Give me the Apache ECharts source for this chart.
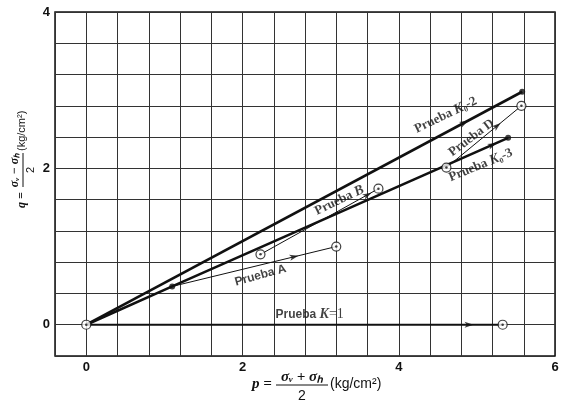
<!DOCTYPE html>
<html>
<head>
<meta charset="utf-8">
<script src="https://cdn.jsdelivr.net/npm/echarts@6/dist/echarts.min.js"></script>
<style>
  html, body { margin: 0; background: #fff; }
  #chart { width: 564px; height: 405px; }
</style>
</head>
<body>
<div id="chart"></div>
<script>
// stress paths, p and q in kg/cm2
const pathK02 = [[0, 0], [5.58, 2.98]];
const pathK03 = [[0, 0], [1.10, 0.49], [5.40, 2.39]];
const pathA = [[1.10, 0.49], [3.20, 1.00]];
const pathB = [[2.23, 0.90], [3.74, 1.74]];
const pathD = [[4.61, 2.01], [5.57, 2.80]];
const pathK1 = [[0, 0], [5.33, 0]];

const solidPoints = [[1.10, 0.49], [5.58, 2.98], [5.40, 2.39]];
const openPoints = [[0, 0], [3.20, 1.00], [2.23, 0.90], [3.74, 1.74], [4.61, 2.01], [5.57, 2.80], [5.33, 0]];

// arrow heads along each path
const arrowAt = [[4.84, 2.585], [5.20, 2.30], [2.66, 0.87], [3.60, 1.66], [5.26, 2.545], [4.90, 0]];
const arrowPath = [pathK02, pathK03, pathA, pathB, pathD, pathK1];

// labels: position, angle
const labelAt = [[4.60, 2.68], [5.05, 2.04], [2.23, 0.63], [3.24, 1.59], [4.93, 2.39], [2.86, 0.13]];
const labelAngle = [26, 22.5, 15.5, 26, 37, 0];
const labelText = [
  '{a|Prueba }{k|K}{a|₀-2}',
  '{a|Prueba }{k|K}{a|₀-3}',
  '{b|Prueba A}',
  '{a|Prueba }{k|B}',
  '{a|Prueba D}',
  '{b|Prueba }{k|K}{e|=1}'
];

const xLabels = [0, 2, 4, 6];
const yLabels = [0, 2, 4];

const ink = '#111';
const chart = echarts.init(document.getElementById('chart'));

function pathSeries(data, width) {
  return {
    type: 'line', data, symbol: 'none', silent: true, z: 3,
    lineStyle: { color: ink, width }
  };
}

function onlyTicks(list) {
  return v => list.some(t => Math.abs(t - v) < 1e-6) ? String(Math.round(v)) : '';
}

const rich = {
  a: { fontFamily: 'Liberation Serif', fontWeight: 'bold', fontSize: 13, color: ink },
  b: { fontFamily: 'Liberation Sans', fontWeight: 'bold', fontSize: 12, color: ink },
  k: { fontFamily: 'Liberation Serif', fontStyle: 'italic', fontWeight: 'bold', fontSize: 14, color: ink },
  e: { fontFamily: 'Liberation Serif', fontSize: 14, color: ink }
};

const txt = (text, x, y, size, extra) => ({
  type: 'text', x, y,
  style: Object.assign({ text, fill: ink, fontSize: size, fontFamily: 'Liberation Serif',
    align: 'center', verticalAlign: 'middle' }, extra || {})
});

chart.setOption({
  animation: false,
  grid: { left: 55, top: 12, width: 500, height: 344, show: true, borderColor: ink, borderWidth: 1.5 },
  xAxis: {
    type: 'value', min: -0.4, max: 6, interval: 0.4,
    axisLine: { show: false }, axisTick: { show: false },
    axisLabel: { formatter: onlyTicks(xLabels), color: ink, fontSize: 13, fontWeight: 'bold',
      fontFamily: 'Liberation Sans', margin: 5 },
    splitLine: { lineStyle: { color: '#333', width: 1 } }
  },
  yAxis: {
    type: 'value', min: -0.4, max: 4, interval: 0.4,
    axisLine: { show: false }, axisTick: { show: false },
    axisLabel: { formatter: onlyTicks(yLabels), color: ink, fontSize: 13, fontWeight: 'bold',
      fontFamily: 'Liberation Sans', margin: 5 },
    splitLine: { lineStyle: { color: '#333', width: 1 } }
  },
  series: [
    pathSeries(pathK02, 2.6),
    pathSeries(pathK03, 2.6),
    pathSeries(pathA, 1),
    pathSeries(pathB, 1),
    pathSeries(pathD, 1),
    pathSeries(pathK1, 2),
    {
      type: 'scatter', data: solidPoints, symbol: 'circle', symbolSize: 6, z: 5,
      itemStyle: { color: ink }
    },
    {
      type: 'scatter', data: openPoints, symbol: 'circle', symbolSize: 9, z: 5,
      itemStyle: { color: '#fff', borderColor: ink, borderWidth: 1.2 }
    },
    {
      type: 'scatter', data: openPoints, symbol: 'circle', symbolSize: 2.5, z: 6,
      itemStyle: { color: ink }
    },
    {
      type: 'scatter', symbolSize: 0, z: 7, silent: true,
      data: labelAt.map((p, i) => ({
        value: p,
        label: { show: true, position: 'inside', rotate: labelAngle[i], formatter: labelText[i], rich }
      }))
    }
  ],
  graphic: [
    {
      type: 'group', x: 302, y: 385,
      children: [
        txt('p =', -40, -1, 15, { fontStyle: 'italic', fontWeight: 'bold' }),
        txt('σᵥ + σₕ', 0, -8, 15, { fontStyle: 'italic', fontWeight: 'bold' }),
        { type: 'line', shape: { x1: -26, y1: 0, x2: 26, y2: 0 }, style: { stroke: ink, lineWidth: 1 } },
        txt('2', 0, 11, 14, { fontFamily: 'Liberation Sans' }),
        txt('(kg/cm²)', 28, -1, 14, { fontFamily: 'Liberation Sans', align: 'left' })
      ]
    },
    {
      type: 'group', x: 23, y: 170, rotation: Math.PI / 2,
      children: [
        txt('q =', -30, -1, 12, { fontStyle: 'italic', fontWeight: 'bold' }),
        txt('σᵥ − σₕ', 0, -8, 12, { fontStyle: 'italic', fontWeight: 'bold' }),
        { type: 'line', shape: { x1: -17, y1: 0, x2: 17, y2: 0 }, style: { stroke: ink, lineWidth: 1 } },
        txt('2', 0, 8, 11, { fontFamily: 'Liberation Sans' }),
        txt('(kg/cm²)', 19, -1, 11, { fontFamily: 'Liberation Sans', align: 'left' })
      ]
    }
  ]
});

// arrow heads follow the direction of their path on screen
const arrowData = arrowAt.map((p, i) => {
  const path = arrowPath[i];
  const a = chart.convertToPixel({ gridIndex: 0 }, path[path.length - 2]);
  const b = chart.convertToPixel({ gridIndex: 0 }, path[path.length - 1]);
  const deg = Math.atan2(a[1] - b[1], b[0] - a[0]) * 180 / Math.PI;
  return { value: p, symbolRotate: deg };
});

chart.setOption({
  series: [{
    type: 'scatter', id: 'arrows', z: 6, silent: true,
    symbol: 'path://M0,0 L12,4 L0,8 L3,4 Z', symbolSize: [9, 6],
    itemStyle: { color: ink },
    data: arrowData
  }]
});
</script>
</body>
</html>
